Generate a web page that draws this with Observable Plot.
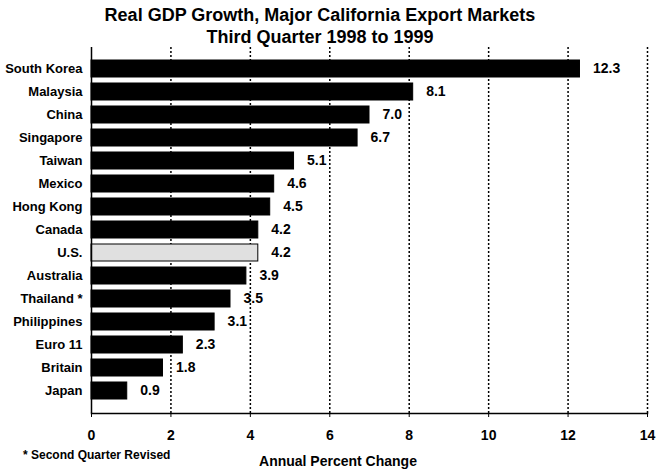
<!DOCTYPE html>
<html>
<head>
<meta charset="utf-8">
<script src="https://cdn.jsdelivr.net/npm/d3@7"></script>
<script src="https://cdn.jsdelivr.net/npm/@observablehq/plot@0.6"></script>
<style>
  body { margin: 0; background: #fff; }
  #chart { width: 659px; height: 470px; }
  svg { font-family: "Liberation Sans", Arial, sans-serif; }
</style>
</head>
<body>
<div id="chart"></div>
<script>
const countries = ["South Korea", "Malaysia", "China", "Singapore", "Taiwan", "Mexico", "Hong Kong", "Canada", "U.S.", "Australia", "Thailand *", "Philippines", "Euro 11", "Britain", "Japan"];
const growth = [12.3, 8.1, 7.0, 6.7, 5.1, 4.6, 4.5, 4.2, 4.2, 3.9, 3.5, 3.1, 2.3, 1.8, 0.9];
const xTicks = [0, 2, 4, 6, 8, 10, 12, 14];
const gridTicks = [2, 4, 6, 8, 10, 12, 14];
const titleLines = ["Real GDP Growth, Major California Export Markets", "Third Quarter 1998 to 1999"];
const xLabel = "Annual Percent Change";
const footnote = "* Second Quarter Revised";
const highlight = "U.S.";

const data = countries.map((c, i) => ({country: c, value: growth[i]}));

const plot = Plot.plot({
  width: 659,
  height: 470,
  marginTop: 47,
  marginBottom: 57,
  marginLeft: 91,
  marginRight: 12,
  style: {fontFamily: "'Liberation Sans', Arial, sans-serif", background: "white", color: "black"},
  x: {domain: [0, 14]},
  y: {domain: countries, padding: 0.26},
  marks: [
    Plot.gridX(gridTicks, {stroke: "black", strokeOpacity: 1, strokeWidth: 1.5, strokeDasharray: "2,2"}),
    Plot.barX(data, {
      x: "value", y: "country",
      fill: d => d.country === highlight ? "#e0e0e0" : "black",
      stroke: "black", strokeWidth: 1
    }),
    Plot.text(data, {
      x: "value", y: "country", text: d => d.value.toFixed(1),
      dx: 13, textAnchor: "start", fontSize: 14, fontWeight: "bold", fill: "black"
    }),
    Plot.ruleX([0], {stroke: "black", strokeWidth: 1.5}),
    Plot.frame({anchor: "bottom", stroke: "black", strokeWidth: 1.5}),
    Plot.axisX(xTicks, {tickSize: 4, tickPadding: 13, fontSize: 14, fontWeight: "bold", label: null, tickFormat: d => String(d)}),
    Plot.axisY({tickSize: 0, tickPadding: 9, fontSize: 13, fontWeight: "bold", label: null})
  ]
});

const svg = d3.select(plot);
svg.append("text").attr("x", 320).attr("y", 21).attr("text-anchor", "middle")
  .attr("font-size", 18).attr("font-weight", "bold").attr("fill", "black").text(titleLines[0]);
svg.append("text").attr("x", 320).attr("y", 43).attr("text-anchor", "middle")
  .attr("font-size", 18).attr("font-weight", "bold").attr("fill", "black").text(titleLines[1]);
svg.append("text").attr("x", 338).attr("y", 466).attr("text-anchor", "middle")
  .attr("font-size", 14).attr("font-weight", "bold").attr("fill", "black").text(xLabel);
svg.append("text").attr("x", 23).attr("y", 459).attr("text-anchor", "start")
  .attr("font-size", 12).attr("font-weight", "bold").attr("fill", "black").text(footnote);

document.getElementById("chart").appendChild(plot);
</script>
</body>
</html>
